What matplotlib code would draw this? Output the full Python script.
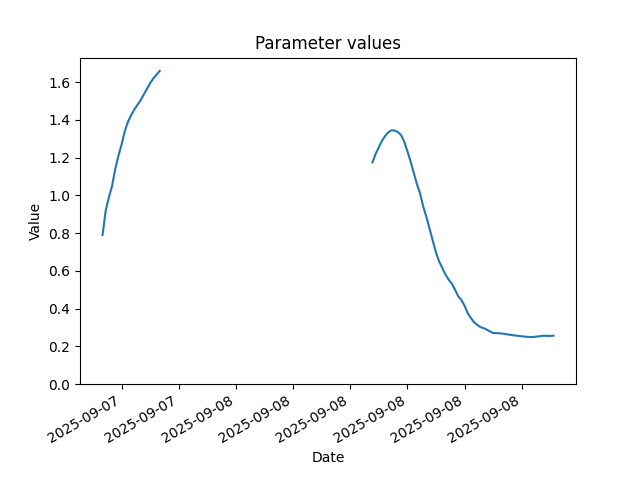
import matplotlib
matplotlib.use('Agg')
import matplotlib.pyplot as plt
import matplotlib.dates as mdates
import numpy as np
import pandas as pd

# evening segment, 10 min steps from 2025-09-07 17:00
seg1_start = '2025-09-07 17:00'
seg1_values = [0.79, 0.92, 0.99, 1.05, 1.14, 1.21, 1.27, 1.34, 1.39, 1.425,
               1.455, 1.48, 1.505, 1.535, 1.565, 1.595, 1.62, 1.64, 1.66]

# day segment, 10 min steps from 2025-09-08 07:10
seg2_start = '2025-09-08 07:10'
seg2_values = [1.175, 1.22, 1.255, 1.29, 1.315, 1.335, 1.345, 1.344, 1.336, 1.32,
               1.285, 1.235, 1.18, 1.12, 1.06, 1.01, 0.94, 0.885, 0.823, 0.76,
               0.697, 0.65, 0.615, 0.58, 0.553, 0.532, 0.50, 0.465, 0.445, 0.415,
               0.375, 0.35, 0.328, 0.313, 0.302, 0.296, 0.288, 0.279, 0.270, 0.270,
               0.269, 0.267, 0.264, 0.262, 0.259, 0.257, 0.255, 0.253, 0.251, 0.250,
               0.249, 0.250, 0.252, 0.254, 0.256, 0.255, 0.255, 0.256]

s1 = pd.Series(seg1_values, index=pd.date_range(seg1_start, periods=len(seg1_values), freq='10min'))
s2 = pd.Series(seg2_values, index=pd.date_range(seg2_start, periods=len(seg2_values), freq='10min'))
series = pd.concat([s1, s2])
full_index = pd.date_range(s1.index[0], s2.index[-1], freq='10min')
series = series.reindex(full_index)

fig, ax = plt.subplots()
ax.plot(series.index.to_pydatetime(), series.values)
ax.set_ylim(bottom=0)
ax.xaxis.set_major_formatter(mdates.DateFormatter('%Y-%m-%d'))
ax.set_title('Parameter values')
ax.set_xlabel('Date')
ax.set_ylabel('Value')
fig.autofmt_xdate()

plt.savefig('out.png')
plt.close()
